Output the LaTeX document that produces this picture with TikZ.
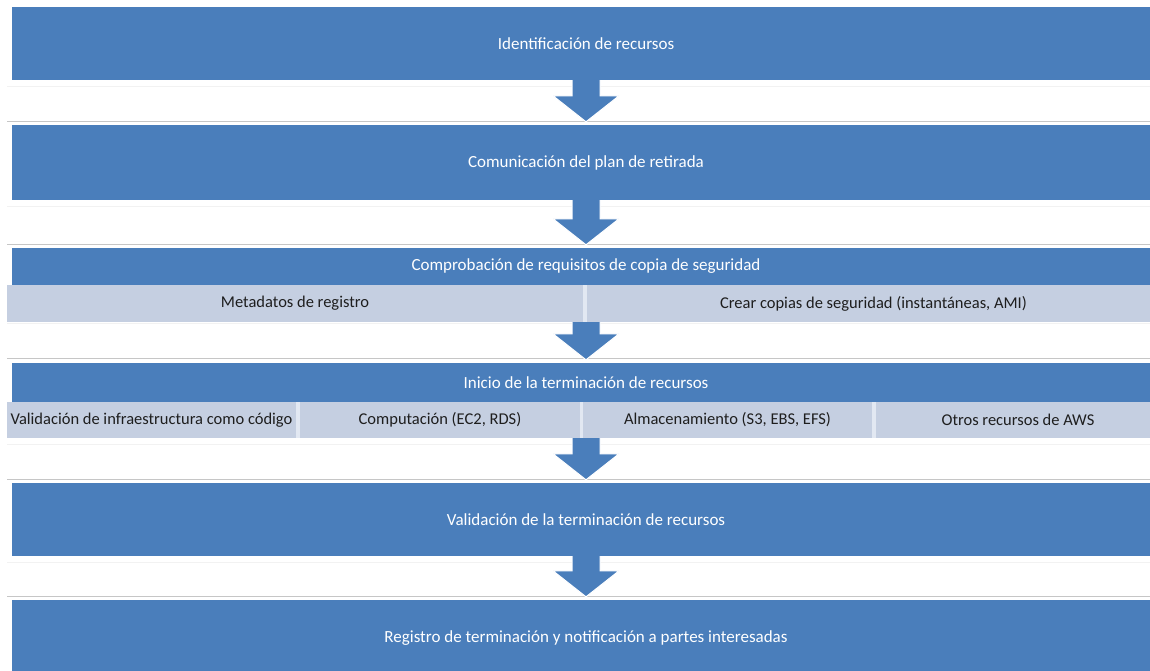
\documentclass[tikz,border=0pt]{standalone}
\usepackage{fontspec}
\setmainfont{Carlito}
\usetikzlibrary{calc}
\definecolor{stepblue}{RGB}{74,126,187}
\definecolor{subfill}{RGB}{197,207,225}
\definecolor{subgap}{RGB}{226,232,242}
\definecolor{subtext}{RGB}{30,30,30}
\tikzset{
  bar/.style={rectangle, fill=stepblue, inner sep=0pt, minimum width=1148pt,
              text=white, font=\fontsize{17}{19}\selectfont},
  subbox/.style={rectangle, fill=subfill, inner sep=0pt, minimum height=36pt,
                 text=subtext, font=\fontsize{16.5}{19}\selectfont},
  flowarrow/.style={fill=stepblue, draw=white, line width=1pt, line join=miter},
  faintline/.style={draw=gray!10, line width=0.8pt},
  rule/.style={draw=gray!45, line width=0.8pt}
}
\begin{document}
\begin{tikzpicture}[x=1pt,y=1pt]
\useasboundingbox (0,0) rectangle (1150,671);
\clip (0,0) rectangle (1150,671);

% thin rules across the gaps between the stages
\foreach \ya/\yb in {585/550, 465/427, 348/313, 227/192, 109/75} {
  \draw[faintline] (7,\ya) -- (1150,\ya);
  \draw[rule] (7,\yb) -- (1150,\yb);
}

% invisible stage frames that anchor the arrows
\path
  node[bar, minimum height=73pt, fill=none, text opacity=0] (b1) at (586,627.5) {}
  node[bar, minimum height=75pt, fill=none, text opacity=0] (b2) at (586,508.5) {}
  node[bar, minimum height=37pt, fill=none, text opacity=0] (b3) at (586,404.5) {}
  node[bar, minimum height=39pt, fill=none, text opacity=0] (b4) at (586,288.5) {}
  node[bar, minimum height=73pt, fill=none, text opacity=0] (b5) at (586,151.5) {}
  node[bar, minimum height=76pt, fill=none, text opacity=0] (b6) at (586,33) {};

% arrow start points
\coordinate (s1) at (b1.south);
\coordinate (s2) at (b2.south);
\coordinate (s3) at (586,349);
\coordinate (s4) at (586,233);
\coordinate (s5) at (b5.south);

% block arrows between the stages
\foreach \s/\e in {s1/b2, s2/b3, s3/b4, s4/b5, s5/b6} {
  \filldraw[flowarrow]
    ($(\s)+(-14,3)$) -- ($(\s)+(14,3)$) -- ($(\e.north)+(14,29)$)
    -- ($(\e.north)+(33,29)$) -- ($(\e.north)+(0,3)$)
    -- ($(\e.north)+(-33,29)$) -- ($(\e.north)+(-14,29)$) -- cycle;
}

% stage bars
\node[bar, minimum height=73pt] (t1) at (b1) {Identificación de recursos};
\node[bar, minimum height=75pt] (t2) at (b2) {Comunicación del plan de retirada};
\node[bar, minimum height=37pt] (t3) at (b3) {Comprobación de requisitos de copia de seguridad};
\node[bar, minimum height=39pt] (t4) at (b4) {Inicio de la terminación de recursos};
\node[bar, minimum height=73pt] (t5) at (b5) {Validación de la terminación de recursos};
\node[bar, minimum height=76pt] (t6) at (b6) {Registro de terminación y notificación a partes interesadas};

% light strips behind the sub-step rows
\fill[subgap] (7,349) rectangle (1150,386);
\fill[subgap] (7,233) rectangle (1150,269);

% backup sub-steps
\node[subbox, minimum width=576pt, minimum height=37pt] (m1) at (295,367.5) {Metadatos de registro};
\node[subbox, minimum width=573pt, minimum height=37pt] (m2) at (873.5,367.5) {Crear copias de seguridad (instantáneas, AMI)};

% termination sub-steps
\node[subbox, minimum width=289pt] (v1) at (151.5,251) {Validación de infraestructura como código};
\node[subbox, minimum width=280pt] (v2) at (440,251) {Computación (EC2, RDS)};
\node[subbox, minimum width=289pt] (v3) at (727.5,251) {Almacenamiento (S3, EBS, EFS)};
\node[subbox, minimum width=284pt] (v4) at (1018,251) {Otros recursos de AWS};
\end{tikzpicture}
\end{document}
